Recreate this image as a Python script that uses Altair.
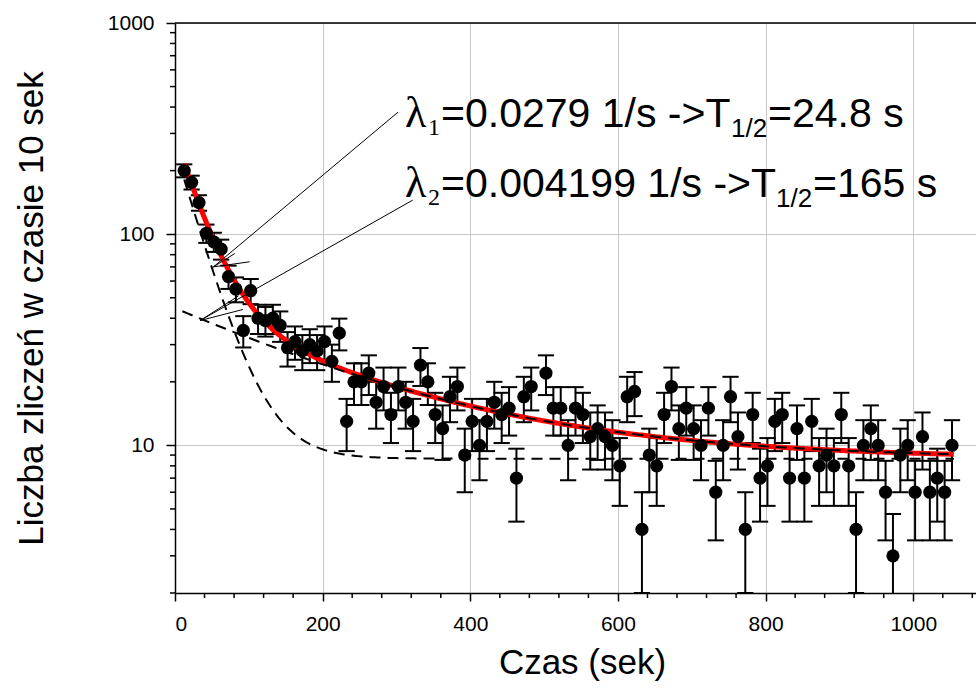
import altair as alt
import numpy as np
import pandas as pd

# ---------------- data ----------------
# counts in successive 10-second intervals (None = zero count, not drawable on a log axis)
counts = [200, 176, 141, 101, 92, 85, 63, 55, 35, 54,
          40, 39, 40, 37, 29, 31, 28, 30, 28, 31,
          25, 34, 13, 20, 20, 22, 16, 19, 14, 19,
          16, 13, 24, 20, 14, 12, 17, 19, 9, 13,
          10, 13, 16, 14, 15, 7, 17, 19, None, 22,
          15, 15, 10, 15, 14, 11, 12, 11, 10, 8,
          17, 18, 4, 9, 8, 14, 19, 12, 15, 12,
          10, 15, 6, 10, 17, 11, 4, 14, 7, 8,
          13, 14, 7, 12, 7, 13, 8, 9, 8, 14,
          8, 4, 10, 12, 10, 6, 3, 9, 10, 6,
          11, 6, 7, 6, 10]
t_first = 12.5          # time of first interval (s)
t_step = 10             # interval length (s)
times = [t_first + t_step * k for k in range(len(counts))]

# fit parameters (lambdas from the annotation)
lam1 = 0.0279
lam2 = 0.004199
A1 = 245.0
A2 = 36.0
C0 = 8.65
fit_start, fit_end = 12.5, 1055.0
dash2_start = 10.0

x_major = [0, 200, 400, 600, 800, 1000]
x_minor = [v for v in range(40, 1081, 40) if v % 200 != 0]
y_major = [10, 100, 1000]
y_minor = [m * d for d in (1, 10, 100) for m in range(2, 10) if m * d >= 2]

# annotation pointer lines (data coordinates: t1, v1, t2, v2)
ann_lines = [
    (52, 70, 302, 378),
    (52, 70, 81, 81),
    (52, 70, 101, 74),
    (34, 39, 322, 145),
    (34, 39, 86, 51),
    (34, 39, 92, 44),
]

# ---------------- layout ----------------
W, H = 801, 570
XMAX = 1085
YMIN, YMAX = 2, 1000
FONT = "Liberation Sans"

xs = alt.Scale(domain=[0, XMAX], nice=False, zero=False)
ys = alt.Scale(type="log", domain=[YMIN, YMAX], nice=False)

pts = pd.DataFrame({"t": times, "n": counts}).dropna()
pts["n"] = pts["n"].astype(float)
pts["err"] = np.sqrt(pts["n"])
pts["lo"] = pts["n"] - pts["err"]
pts["hi"] = pts["n"] + pts["err"]
cap_half = 11
pts["c1"] = pts["t"] - cap_half
pts["c2"] = pts["t"] + cap_half

tt = np.linspace(fit_start, fit_end, 400)
fit_df = pd.DataFrame({"t": tt, "v": A1 * np.exp(-lam1 * tt) + A2 * np.exp(-lam2 * tt) + C0})
d1_df = pd.DataFrame({"t": tt, "v": A1 * np.exp(-lam1 * tt) + C0})
tt2 = np.linspace(dash2_start, fit_end, 400)
d2_df = pd.DataFrame({"t": tt2, "v": A2 * np.exp(-lam2 * tt2) + C0})

X = alt.X("t:Q", scale=xs, axis=alt.Axis(
    values=x_major, format="d", grid=True, gridColor="#c8c8c8", gridWidth=1,
    tickSize=8, tickWidth=1.5, tickColor="black", domainColor="black", domainWidth=1.5,
    labelFont=FONT, labelFontSize=21, labelColor="black", labelPadding=12,
    title="Czas (sek)", titleFont=FONT, titleFontSize=35, titleFontWeight="normal",
    titleColor="black", titleX=407, titleY=80, titleBaseline="alphabetic", titleAlign="center"))
Y = alt.Y("n:Q", scale=ys, axis=alt.Axis(
    values=y_major, format="d", grid=True, gridColor="#c8c8c8", gridWidth=1,
    tickSize=9, tickWidth=1.5, tickColor="black", domainColor="black", domainWidth=1.5,
    labelFont=FONT, labelFontSize=21, labelColor="black", labelPadding=12,
    title="Liczba zliczeń w czasie 10 sek", titleFont=FONT, titleFontSize=35,
    titleFontWeight="normal", titleColor="black", titleAngle=-90, titleX=-133, titleY=285,
    titleBaseline="alphabetic", titleAlign="center"))

base = alt.Chart(pts)
axes_layer = base.mark_point(opacity=0).encode(x=X, y=Y)

bars = base.mark_rule(color="black", strokeWidth=2, clip=True).encode(
    x=alt.X("t:Q", scale=xs), y=alt.Y("lo:Q", scale=ys), y2="hi:Q")
caps_hi = base.mark_rule(color="black", strokeWidth=2, clip=True).encode(
    x=alt.X("c1:Q", scale=xs), x2="c2:Q", y=alt.Y("hi:Q", scale=ys))
caps_lo = base.mark_rule(color="black", strokeWidth=2, clip=True).encode(
    x=alt.X("c1:Q", scale=xs), x2="c2:Q", y=alt.Y("lo:Q", scale=ys))

fit_line = alt.Chart(fit_df).mark_line(color="#ff0000", strokeWidth=5, clip=True).encode(
    x=alt.X("t:Q", scale=xs), y=alt.Y("v:Q", scale=ys))
d1_line = alt.Chart(d1_df).mark_line(color="black", strokeWidth=2, strokeDash=[11, 7], clip=True).encode(
    x=alt.X("t:Q", scale=xs), y=alt.Y("v:Q", scale=ys))
d2_line = alt.Chart(d2_df).mark_line(color="black", strokeWidth=2, strokeDash=[11, 7], clip=True).encode(
    x=alt.X("t:Q", scale=xs), y=alt.Y("v:Q", scale=ys))

dots = base.mark_circle(color="black", opacity=1, size=175, clip=True).encode(
    x=alt.X("t:Q", scale=xs), y=alt.Y("n:Q", scale=ys))

ann_df = pd.DataFrame(ann_lines, columns=["t1", "v1", "t2", "v2"])
ann = alt.Chart(ann_df).mark_rule(color="black", strokeWidth=1).encode(
    x=alt.X("t1:Q", scale=xs), y=alt.Y("v1:Q", scale=ys), x2="t2:Q", y2="v2:Q")

# minor ticks drawn outside the plot
xmin_df = pd.DataFrame({"t": x_minor})
xminor = alt.Chart(xmin_df).mark_rule(color="black", strokeWidth=1.5).encode(
    x=alt.X("t:Q", scale=xs), y=alt.value(H), y2=alt.value(H + 5))
ymin_df = pd.DataFrame({"n": y_minor})
yminor = alt.Chart(ymin_df).mark_rule(color="black", strokeWidth=1.5).encode(
    y=alt.Y("n:Q", scale=ys), x=alt.value(-5), x2=alt.value(0))

one = pd.DataFrame({"a": [0]})
top_border = alt.Chart(one).mark_rule(color="black", strokeWidth=1.5).encode(
    x=alt.value(0), x2=alt.value(W), y=alt.value(0))


def txt(s, x, y, size, font=FONT):
    return alt.Chart(one).mark_text(align="left", baseline="alphabetic", font=font,
                                    fontSize=size, color="black").encode(
        x=alt.value(x), y=alt.value(y), text=alt.value(s))


ox, oy = 175, 23
BIG = 41
SUB = 26
texts = [
    txt("λ", 405 - ox, 127 - oy, 44, "Liberation Serif"),
    txt("1", 428 - ox, 135 - oy, 24, "Liberation Serif"),
    txt("=0.0279 1/s ->T", 441 - ox, 127 - oy, BIG),
    txt("1/2", 731 - ox, 137 - oy, SUB),
    txt("=24.8 s", 768 - ox, 127 - oy, BIG),
    txt("λ", 405 - ox, 197 - oy, 44, "Liberation Serif"),
    txt("2", 428 - ox, 205 - oy, 24, "Liberation Serif"),
    txt("=0.004199 1/s ->T", 441 - ox, 197 - oy, BIG),
    txt("1/2", 776 - ox, 207 - oy, SUB),
    txt("=165 s", 813 - ox, 197 - oy, BIG),
]

chart = alt.layer(
    axes_layer, bars, caps_hi, caps_lo, fit_line, d1_line, d2_line, dots, ann,
    xminor, yminor, top_border, *texts
).properties(
    width=W, height=H,
    autosize=alt.AutoSizeParams(type="none"),
    padding={"left": ox, "top": oy, "right": 0, "bottom": 696 - oy - H},
    background="white",
).configure_view(stroke=None)

chart.save("out.html", embed_options={"renderer": "svg", "actions": False})
